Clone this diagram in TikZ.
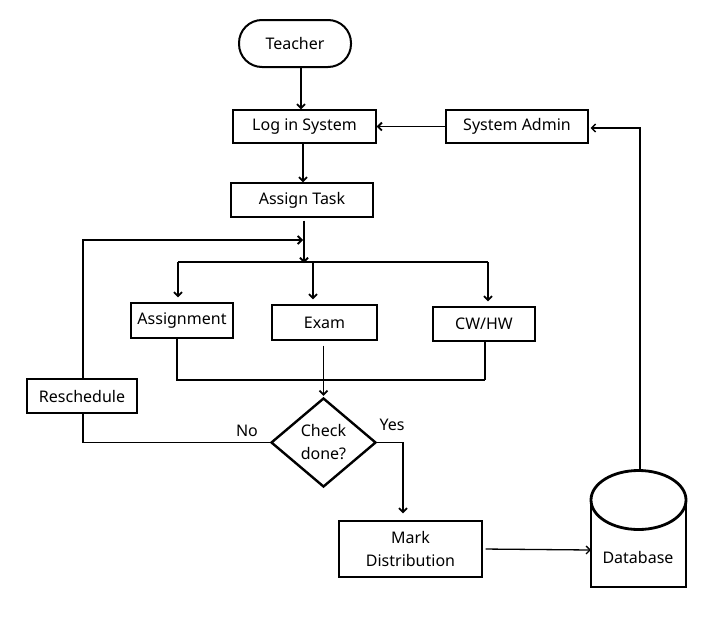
\documentclass[tikz,border=0pt]{standalone}
\usepackage{fontspec}
\setmainfont{Noto Sans}
\usetikzlibrary{arrows.meta,shapes.geometric,calc}
\begin{document}
\begin{tikzpicture}[x=1pt,y=-1pt,
  every node/.style={font=\fontsize{16}{23}\selectfont, inner sep=0pt},
  box/.style={draw, line width=1.4pt, align=center},
  arr/.style={line width=1.8pt, -{Straight Barb[length=4pt,width=8pt,line width=1.8pt]}},
  ln/.style={line width=1.8pt},
  thinarr/.style={line width=1.3pt, -{Straight Barb[length=4pt,width=8pt,line width=1.3pt]}}
]
\useasboundingbox[fill=white] (0,0) rectangle (722,624);

% nodes
\node[draw, line width=2pt, rounded corners=23pt, minimum width=112pt, minimum height=47pt] (teacher) at (295,43.5) {Teacher};
\node[box, minimum width=143pt, minimum height=33pt] (login) at (304.5,126.5) {Log in System};
\node[box, minimum width=142pt, minimum height=33pt] (admin) at (517,126.5) {System Admin};
\node[box, minimum width=142pt, minimum height=34pt] (assign) at (302,200) {Assign Task};
\node[box, minimum width=102pt, minimum height=35pt] (assignment) at (182,320.5) {Assignment};
\node[box, minimum width=105pt, minimum height=35pt] (exam) at (324.5,322.5) {Exam};
\node[box, minimum width=102pt, minimum height=34pt] (cwhw) at (484,324) {CW/HW};
\node[box, minimum width=110pt, minimum height=34pt] (resched) at (82,396) {Reschedule};
\node[diamond, draw, line width=2.4pt, minimum width=105pt, minimum height=89pt,
      label={[align=center, font=\fontsize{16}{23}\selectfont]center:Check\\done?}] (dia) at (323.5,442.5) {};
\node[box, minimum width=143pt, minimum height=56pt] (mark) at (410.5,549) {Mark\\Distribution};
\node[minimum width=95pt, minimum height=116pt] (db) at (638.5,529) {};

% database cylinder
\draw[line width=2.8pt] (591,500) -- (591,587) -- (686,587) -- (686,500);
\draw[line width=2.8pt, fill=white] (638.5,500) ellipse [x radius=47.5, y radius=29.5];
\node at (638,557) {Database};

% coordinates
\coordinate (busL) at (178,262);
\coordinate (busM) at (313,262);
\coordinate (busR) at (488,262);
\coordinate (busC) at (304,262);
\coordinate (jR) at (485,380);
\coordinate (rj) at (303,240);
\coordinate (yj) at (403,442.5);
\coordinate (dbtop) at (640,471);
\coordinate (adminret) at (640,128);

% connectors
\draw[arr] ([xshift=6pt]teacher.south) -- ([xshift=-3.5pt]login.north);
\draw[arr] (admin.west) -- (login.east);
\draw[arr] ([xshift=-1.5pt]login.south) -- ([xshift=1pt]assign.north);
\draw[arr, shorten <=3pt] ([xshift=2pt]assign.south) -- ([yshift=-1pt]busC);
\draw[ln] (busL) -- (busR);
\draw[arr, shorten >=5pt] (busL) -- (busL |- assignment.north);
\draw[arr, shorten >=5pt] (busM) -- (busM |- exam.north);
\draw[arr, shorten >=5pt] (busR) -- (busR |- cwhw.north);
\draw[ln] ([xshift=-5pt]assignment.south) |- (jR);
\draw[ln] ([xshift=1pt]cwhw.south) -- (jR);
\draw[arr, shorten <=5pt, shorten >=1pt] ([xshift=-1pt]exam.south) -- (dia.north);
\draw[ln] (dia.west) -| ([xshift=1pt]resched.south);
\draw[arr] ([xshift=1pt]resched.north) |- (rj);
\draw[arr, shorten >=7pt] (dia.east) -- (yj) -- (yj |- mark.north);
\draw[thinarr, shorten <=3pt] (mark.east) -- (591,550);
\draw[thinarr, shorten >=2pt] (dbtop) -- (adminret) -- (adminret -| admin.east);

% labels
\node at (247,431) {No};
\node at (392,425) {Yes};
\end{tikzpicture}
\end{document}
